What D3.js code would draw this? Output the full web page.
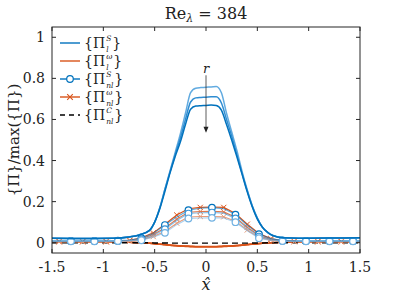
<!DOCTYPE html>
<html>
<head>
<meta charset="utf-8">
<script src="https://cdn.jsdelivr.net/npm/d3@7"></script>
<style>
  body { margin: 0; background: #fff; }
  svg text { font-family: "DejaVu Serif", "Liberation Serif", serif; }
</style>
</head>
<body>
<div id="chart"></div>
<script>
/** DATA */
// dense grid used by the local (l) curves and the dashed curve
const xL = [-1.5, -1.2, -0.9, -0.75, -0.65, -0.55, -0.5, -0.45, -0.4, -0.35, -0.3, -0.25, -0.2, -0.15, -0.1, -0.05,
  0, 0.05, 0.1, 0.15, 0.2, 0.25, 0.3, 0.35, 0.4, 0.45, 0.5, 0.55, 0.6, 0.65, 0.75, 0.9, 1.2, 1.5];

const lS1 = [.022, .021, .022, .028, .038, .06, .10, .17, .26, .35, .44, .53, .63, .73, .752, .755,
  .757, .758, .76, .73, .63, .54, .45, .35, .26, .18, .12, .075, .05, .035, .024, .022, .023, .024];
const lS2 = [.022, .021, .022, .028, .038, .06, .10, .17, .26, .345, .43, .51, .60, .685, .705, .707,
  .708, .71, .71, .68, .60, .52, .43, .34, .255, .18, .12, .075, .05, .035, .024, .022, .023, .024];
const lS3 = [.022, .021, .022, .028, .038, .06, .10, .165, .25, .34, .42, .49, .575, .65, .665, .667,
  .668, .67, .668, .645, .575, .50, .42, .335, .25, .175, .115, .075, .05, .035, .024, .022, .023, .024];

const lW1 = [.004, .004, .003, .002, 0, -.003, -.005, -.007, -.009, -.011, -.013, -.015, -.016, -.017, -.018, -.018,
  -.018, -.018, -.018, -.017, -.016, -.015, -.013, -.011, -.009, -.007, -.005, -.003, -.001, 0, .002, .003, .004, .004];
const lW2 = [.004, .004, .003, .002, 0, -.003, -.005, -.007, -.009, -.012, -.014, -.016, -.017, -.018, -.019, -.019,
  -.019, -.019, -.019, -.018, -.017, -.016, -.014, -.012, -.009, -.007, -.005, -.003, -.001, 0, .002, .003, .004, .004];
const lW3 = [.004, .004, .003, .002, 0, -.003, -.005, -.007, -.010, -.012, -.015, -.017, -.018, -.019, -.020, -.020,
  -.020, -.020, -.020, -.019, -.018, -.017, -.015, -.012, -.010, -.007, -.005, -.003, -.001, 0, .002, .003, .004, .004];

const nlC = [0, 0, 0, 0, 0, 0, -.001, -.001, -.001, -.002, -.002, -.002, -.002, -.002, -.002, -.002,
  -.002, -.002, -.002, -.002, -.002, -.002, -.002, -.002, -.002, -.001, -.001, -.001, 0, 0, 0, 0, 0, 0];

// coarse grid used by the non-local (nl) curves with markers
const xN = [-1.5, -1.43, -1.316, -1.201, -1.087, -0.972, -0.858, -0.743, -0.629, -0.514, -0.400, -0.285, -0.171, -0.056,
  0.058, 0.173, 0.287, 0.402, 0.516, 0.631, 0.745, 0.860, 0.974, 1.089, 1.203, 1.318, 1.432, 1.5];

const nlS1 = [.009, .009, .009, .009, .009, .009, .010, .013, .022, .045, .086, .125, .158, .168,
  .171, .165, .137, .085, .042, .020, .011, .009, .009, .009, .009, .009, .009, .009];
const nlS2 = [.008, .008, .008, .008, .008, .008, .009, .011, .016, .035, .066, .108, .142, .146,
  .147, .144, .118, .070, .030, .015, .010, .008, .008, .008, .008, .008, .008, .008];
const nlS3 = [.007, .007, .007, .007, .007, .007, .008, .009, .012, .027, .048, .088, .118, .120,
  .121, .120, .100, .058, .022, .011, .008, .007, .007, .007, .007, .007, .007, .007];

const nlW1 = [.006, .006, .006, .006, .006, .006, .007, .012, .024, .048, .090, .135, .165, .172,
  .174, .172, .142, .090, .045, .020, .010, .007, .006, .006, .006, .006, .006, .006];
const nlW2 = [.005, .005, .005, .005, .005, .005, .006, .010, .019, .040, .072, .115, .148, .152,
  .153, .150, .124, .075, .035, .016, .009, .006, .005, .005, .005, .005, .005, .005];
const nlW3 = [.004, .004, .004, .004, .004, .004, .005, .008, .014, .030, .055, .095, .125, .128,
  .128, .126, .105, .062, .026, .012, .008, .005, .004, .004, .004, .004, .004, .004];

const xTicks = [-1.5, -1, -0.5, 0, 0.5, 1, 1.5];
const yTicks = [0, 0.2, 0.4, 0.6, 0.8, 1];

const blueL = ["#62ABE0", "#2F8DD2", "#0072BD"];
const orangeL = ["#D95319", "#D95319", "#D95319"];
const blueNL = ["#0072BD", "#3A94D6", "#72B2E2"];
const orangeNL = ["#D95319", "#E0764A", "#E89A78"];

/** LAYOUT */
const width = 399, height = 299,
  margin = { top: 27, bottom: 46, left: 52, right: 39 };

const svg = d3.select("#chart").append("svg")
  .attr("width", width).attr("height", height);

const x = d3.scaleLinear().domain([-1.5, 1.5]).range([margin.left, width - margin.right]);
const y = d3.scaleLinear().domain([-0.05, 1.05]).range([height - margin.bottom, margin.top]);

const zip = (xs, ys) => xs.map((v, i) => [v, ys[i]]);
const lineSmooth = d3.line().x(d => x(d[0])).y(d => y(d[1])).curve(d3.curveMonotoneX);
const linePoly = d3.line().x(d => x(d[0])).y(d => y(d[1]));

const plot = svg.append("g");

// l^omega (solid orange)
[lW1, lW2, lW3].forEach((s, i) => {
  plot.append("path").attr("d", lineSmooth(zip(xL, s)))
    .attr("fill", "none").attr("stroke", orangeL[i]).attr("stroke-width", 1.5);
});

// nl^C (dashed black)
plot.append("path").attr("d", linePoly(zip(xL, nlC)))
  .attr("fill", "none").attr("stroke", "#000").attr("stroke-width", 1.4)
  .attr("stroke-dasharray", "6,4");

// nl^omega lines with crosses
[nlW1, nlW2, nlW3].forEach((s, i) => {
  const pts = zip(xN, s);
  plot.append("path").attr("d", linePoly(pts))
    .attr("fill", "none").attr("stroke", orangeNL[i]).attr("stroke-width", 1.1);
  plot.selectAll(null)
    .data(pts.filter((d, j) => j > 0 && j < pts.length - 1 && (j - 1) % 2 === 0))
    .join("path")
    .attr("d", d => {
      const cx = x(d[0]), cy = y(d[1]), r = 2.6;
      return `M${cx - r},${cy - r}L${cx + r},${cy + r}M${cx - r},${cy + r}L${cx + r},${cy - r}`;
    })
    .attr("stroke", orangeNL[i]).attr("stroke-width", 1);
});

// nl^S lines with circles
[nlS1, nlS2, nlS3].forEach((s, i) => {
  const pts = zip(xN, s);
  plot.append("path").attr("d", linePoly(pts))
    .attr("fill", "none").attr("stroke", blueNL[i]).attr("stroke-width", 1.1).attr("stroke-opacity", 0.6);
  plot.selectAll(null)
    .data(pts.filter((d, j) => j > 0 && j < pts.length - 1 && (j - 1) % 2 === 1))
    .join("circle")
    .attr("cx", d => x(d[0])).attr("cy", d => y(d[1])).attr("r", 3.3)
    .attr("fill", "#fff").attr("stroke", blueNL[i]).attr("stroke-width", 1.2);
});

// l^S (solid blue)
[lS1, lS2, lS3].forEach((s, i) => {
  plot.append("path").attr("d", lineSmooth(zip(xL, s)))
    .attr("fill", "none").attr("stroke", blueL[i]).attr("stroke-width", 1.5);
});

// arrow showing increasing r
const ax = x(0);
svg.append("line").attr("x1", ax).attr("x2", ax).attr("y1", y(0.815)).attr("y2", y(0.55))
  .attr("stroke", "#333").attr("stroke-width", 0.8);
svg.append("path")
  .attr("d", `M${ax - 2.5},${y(0.565)}L${ax + 2.5},${y(0.565)}L${ax},${y(0.535)}Z`)
  .attr("fill", "#222");
svg.append("text").attr("x", ax).attr("y", y(0.825)).attr("text-anchor", "middle")
  .attr("fill", "#222").attr("font-size", 13).attr("font-style", "italic").text("r");

/** AXES */
const frame = svg.append("g").attr("stroke", "#262626").attr("stroke-width", 1);
frame.append("rect").attr("x", x(-1.5)).attr("y", margin.top)
  .attr("width", x(1.5) - x(-1.5)).attr("height", height - margin.bottom - margin.top)
  .attr("fill", "none");
const tl = 4;
xTicks.forEach(t => {
  frame.append("line").attr("x1", x(t)).attr("x2", x(t)).attr("y1", y(-0.05)).attr("y2", y(-0.05) - tl);
  frame.append("line").attr("x1", x(t)).attr("x2", x(t)).attr("y1", margin.top).attr("y2", margin.top + tl);
});
yTicks.forEach(t => {
  frame.append("line").attr("x1", x(-1.5)).attr("x2", x(-1.5) + tl).attr("y1", y(t)).attr("y2", y(t));
  frame.append("line").attr("x1", x(1.5)).attr("x2", x(1.5) - tl).attr("y1", y(t)).attr("y2", y(t));
});

svg.append("g").selectAll("text").data(xTicks).join("text")
  .attr("x", d => x(d)).attr("y", y(-0.05) + 19).attr("text-anchor", "middle")
  .attr("fill", "#222").attr("font-size", 14).text(d => String(d));
svg.append("g").selectAll("text").data(yTicks).join("text")
  .attr("x", x(-1.5) - 7).attr("y", d => y(d) + 5).attr("text-anchor", "end")
  .attr("fill", "#222").attr("font-size", 14).text(d => String(d));

// title
const title = svg.append("text").attr("x", x(0)).attr("y", 19).attr("text-anchor", "middle")
  .attr("fill", "#222").attr("font-size", 16);
title.append("tspan").text("Re");
title.append("tspan").attr("dy", 3).attr("font-size", 11).attr("font-style", "italic").text("λ");
title.append("tspan").attr("dy", -3).text(" = 384");

// axis labels
svg.append("text").attr("x", x(0)).attr("y", 290).attr("text-anchor", "middle")
  .attr("fill", "#222").attr("font-size", 16).attr("font-style", "italic").text("x\u0302");
svg.append("text").attr("transform", `translate(19,${(margin.top + height - margin.bottom) / 2}) rotate(-90)`)
  .attr("text-anchor", "middle").attr("fill", "#222").attr("font-size", 15).text("{Π}/max({Π})");

/** LEGEND */
const legendItems = [
  { sup: "S", sub: "l", color: "#0072BD", kind: "line" },
  { sup: "ω", sub: "l", color: "#D95319", kind: "line" },
  { sup: "S", sub: "nl", color: "#0072BD", kind: "circle" },
  { sup: "ω", sub: "nl", color: "#D95319", kind: "cross" },
  { sup: "C", sub: "nl", color: "#000", kind: "dash" }
];
const legendY = [43, 61, 79, 97, 115];
const lg = svg.append("g");
legendItems.forEach((it, i) => {
  const ly = legendY[i];
  lg.append("line").attr("x1", 60).attr("x2", 80).attr("y1", ly).attr("y2", ly)
    .attr("stroke", it.color).attr("stroke-width", it.kind === "dash" ? 1.3 : 1.4)
    .attr("stroke-dasharray", it.kind === "dash" ? "5,4" : null);
  if (it.kind === "circle") {
    lg.append("circle").attr("cx", 70).attr("cy", ly).attr("r", 3.3)
      .attr("fill", "#fff").attr("stroke", it.color).attr("stroke-width", 1.2);
  }
  if (it.kind === "cross") {
    const r = 2.8;
    lg.append("path").attr("d", `M${70 - r},${ly - r}L${70 + r},${ly + r}M${70 - r},${ly + r}L${70 + r},${ly - r}`)
      .attr("stroke", it.color).attr("stroke-width", 1.1);
  }
  // one text element per entry: {Π, stacked super/subscript, }
  const t = lg.append("text").attr("x", 84).attr("y", ly + 5).attr("fill", "#222").attr("font-size", 14);
  t.append("tspan").text("{Π");
  const sp = t.append("tspan").attr("dx", 1).attr("dy", -7).attr("font-size", 7.5)
    .attr("font-style", "italic").text(it.sup);
  const supW = sp.node().getComputedTextLength();
  const sb = t.append("tspan").attr("dx", -supW).attr("dy", 10.5).attr("font-size", 7.5)
    .attr("font-style", "italic").text(it.sub);
  const subW = sb.node().getComputedTextLength();
  t.append("tspan").attr("dx", Math.max(supW - subW, 0) + 1).attr("dy", -3.5).text("}");
});
</script>
</body>
</html>
